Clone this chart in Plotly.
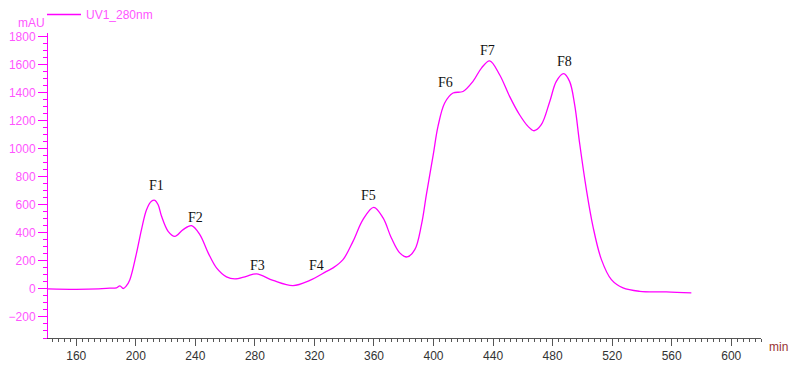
import plotly.graph_objects as go

# UV absorbance trace at 280 nm (time in min, absorbance in mAU)
time_min = [141, 160, 175, 182.5, 187, 189.3, 191.5, 193.5, 196, 200.5, 203.8, 207.2, 210.5,
            212.8, 215, 217.3, 221.7, 226.2, 231.8, 237.4, 243, 248.6, 254.2, 260.9,
            266.5, 274.3, 281.1, 292.2, 305.6, 316.9, 328.1, 332.5, 339.2, 345.9,
            352.6, 359.8, 366.1, 371.7, 377.3, 382.2, 387.4, 391.9, 395.2, 399.7,
            403, 407.5, 413.1, 419.8, 426.5, 432.2, 437.7, 444.4, 451.1, 457.8,
            463.5, 467.5, 472.4, 478.1, 482.5, 487.4, 491.4, 494.8, 498.2, 502.7,
            507.1, 512.8, 519.5, 527.3, 538.5, 556.4, 573.2]
absorbance_mau = [0, -3, 0, 5, 8, 22, 3, 20, 66, 257, 423, 565, 625,
                  632, 600, 518, 411, 375, 423, 451, 387, 257, 150, 86,
                  71, 90, 107, 61, 24, 61, 125, 150, 209, 339,
                  494, 582, 506, 363, 257, 228, 280, 458, 672, 950,
                  1159, 1326, 1397, 1408, 1480, 1575, 1626, 1527, 1373, 1242,
                  1159, 1128, 1171, 1337, 1480, 1535, 1480, 1314, 1035, 708,
                  446, 209, 66, 7, -17, -21, -28]

# Fraction labels and where they sit
fraction_names = ["F1", "F2", "F3", "F4", "F5", "F6", "F7", "F8"]
fraction_x = [214.1, 240.3, 281.9, 321.6, 356.5, 408.2, 436.4, 488.1]
fraction_y = [735, 507, 166, 166, 665, 1470, 1698, 1620]

MAGENTA = "#FF00FF"
LABEL_PINK = "#FF55FF"

fig = go.Figure()
fig.add_trace(go.Scatter(
    x=time_min, y=absorbance_mau, mode="lines", name="UV1_280nm",
    line=dict(color=MAGENTA, width=1.3, shape="spline", smoothing=1.0),
))

for name, fx, fy in zip(fraction_names, fraction_x, fraction_y):
    fig.add_annotation(x=fx, y=fy, text=name, showarrow=False,
                       font=dict(family="Liberation Serif", size=14, color="#111111"))

fig.add_annotation(xref="paper", yref="paper", x=-0.001, y=1.033, xanchor="right", yanchor="middle",
                   text="mAU", showarrow=False,
                   font=dict(family="Liberation Sans", size=12, color=LABEL_PINK))
fig.add_annotation(xref="paper", yref="paper", x=1.008, y=0.0, xanchor="left", yanchor="top",
                   text="min", showarrow=False,
                   font=dict(family="Liberation Sans", size=12, color="#993333"))

fig.update_layout(
    width=790, height=369,
    margin=dict(l=48, r=29, t=33, b=31, autoexpand=False),
    paper_bgcolor="white", plot_bgcolor="white",
    showlegend=True,
    legend=dict(xref="container", yref="container", x=42 / 790, y=1.012,
                xanchor="left", yanchor="top", bgcolor="rgba(0,0,0,0)",
                font=dict(family="Liberation Sans", size=12, color=LABEL_PINK),
                itemwidth=34),
    font=dict(family="Liberation Sans", size=12),
)
fig.update_xaxes(
    range=[141, 620], showgrid=False, zeroline=False,
    showline=True, linecolor="#555555", linewidth=1,
    tick0=0, dtick=40, ticks="outside", ticklen=7, tickcolor="#555555",
    tickfont=dict(color="#333333", size=12),
    minor=dict(dtick=4, ticks="outside", ticklen=3, tickcolor="#555555"),
)
fig.update_yaxes(
    range=[-350, 1825], showgrid=False, zeroline=False,
    showline=True, linecolor=MAGENTA, linewidth=1,
    tick0=0, dtick=200, ticks="outside", ticklen=9, tickcolor=MAGENTA,
    tickfont=dict(color=LABEL_PINK, size=12),
    minor=dict(dtick=50, ticks="outside", ticklen=4, tickcolor=MAGENTA),
)

fig.write_html("out.html")
